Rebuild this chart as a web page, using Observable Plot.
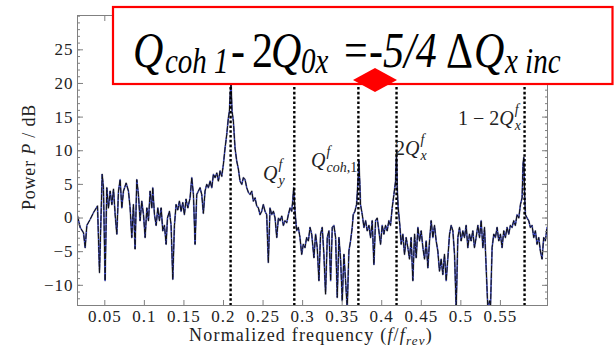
<!DOCTYPE html>
<html><head><meta charset="utf-8">
<script src="https://cdn.jsdelivr.net/npm/d3@7"></script>
<script src="https://cdn.jsdelivr.net/npm/@observablehq/plot@0.6"></script>
<style>
body{margin:0;background:#fff;}
#chart{width:614px;height:350px;}
#chart svg text, #chart svg tspan{font-family:'Liberation Serif', serif !important;}
#chart g[aria-label="x-axis tick label"] text, #chart g[aria-label="y-axis tick label"] text{font-size:17px !important;letter-spacing:1px;fill:#222;}
</style>
</head><body><div id="chart"></div>
<script>
// Normalized frequency (f/f_rev) of each spectrum sample
const freq = [
0.0155,0.0189,0.0231,0.0252,0.0273,0.0315,0.0357,0.0408,0.0433,0.0467,
0.0483,0.0504,0.0525,0.0546,0.0568,0.0589,0.0610,0.0631,0.0652,0.0673,
0.0694,0.0715,0.0736,0.0770,0.0799,0.0820,0.0841,0.0862,0.0883,0.0904,
0.0925,0.0946,0.0967,0.0989,0.1010,0.1031,0.1052,0.1073,0.1094,0.1106,
0.1128,0.1149,0.1170,0.1191,0.1212,0.1233,0.1254,0.1275,0.1292,0.1317,
0.1338,0.1359,0.1380,0.1401,0.1422,0.1443,0.1464,0.1485,0.1506,0.1527,
0.1549,0.1578,0.1599,0.1620,0.1641,0.1662,0.1683,0.1704,0.1725,0.1746,
0.1767,0.1788,0.1809,0.1831,0.1852,0.1873,0.1894,0.1915,0.1936,0.1957,
0.1978,0.1999,0.2020,0.2041,0.2062,0.2075,0.2087,0.2096,0.2108,0.2125,
0.2146,0.2167,0.2188,0.2209,0.2231,0.2252,0.2273,0.2294,0.2315,0.2336,
0.2357,0.2378,0.2399,0.2420,0.2441,0.2462,0.2483,0.2504,0.2525,0.2546,
0.2567,0.2588,0.2610,0.2631,0.2652,0.2673,0.2694,0.2715,0.2736,0.2757,
0.2778,0.2799,0.2820,0.2841,0.2862,0.2875,0.2887,0.2904,0.2925,0.2946,
0.2967,0.2988,0.3009,0.3030,0.3051,0.3073,0.3094,0.3115,
0.3143,0.3164,0.3185,0.3206,0.3227,0.3248,0.3269,0.3290,0.3312,0.3333,
0.3354,0.3375,0.3396,0.3417,0.3438,0.3459,0.3480,0.3501,0.3522,0.3543,
0.3564,0.3585,0.3606,0.3627,0.3640,0.3661,0.3682,0.3703,0.3711,0.3724,
0.3732,0.3754,0.3775,0.3796,0.3817,0.3838,0.3859,0.3880,0.3901,0.3922,
0.3943,0.3964,0.3985,0.4006,0.4027,0.4048,0.4069,0.4090,0.4111,0.4132,
0.4154,0.4175,0.4187,0.4196,0.4208,0.4229,0.4246,0.4267,0.4288,0.4309,
0.4330,0.4351,0.4372,0.4393,0.4415,0.4436,0.4457,0.4478,0.4499,0.4520,
0.4541,0.4562,0.4583,0.4604,0.4625,0.4646,0.4667,0.4688,0.4709,0.4730,
0.4751,0.4772,0.4793,0.4815,0.4836,0.4857,0.4878,0.4899,0.4920,0.4941,
0.4962,0.4983,0.5004,0.5025,0.5046,0.5067,0.5088,0.5109,0.5130,0.5151,
0.5172,0.5193,0.5215,0.5236,0.5257,0.5278,0.5299,0.5320,0.5341,0.5362,
0.5374,0.5395,0.5416,0.5437,0.5458,0.5479,0.5500,0.5521,0.5542,0.5563,
0.5584,0.5605,0.5626,0.5647,0.5668,0.5689,0.5710,0.5732,0.5753,0.5774,
0.5786,0.5795,0.5807,0.5816,0.5837,0.5858,0.5879,0.5900,0.5921,0.5942,
0.5963,0.5984,0.6005,0.6026,0.6047,0.6068,0.6089
];
// Power P / dB at each sample
const power = [
0.3,-1.4,-2.2,-4.4,-1.1,-0.2,0.8,1.8,-8.1,6.5,
4.5,-9.3,4.5,1.5,4.0,2.0,4.3,0.5,-2.4,4.0,
5.7,1.5,4.0,5.2,4.0,1.5,-2.9,2.0,-4.6,5.7,
3.5,-0.4,2.5,0.5,-2.9,1.5,-0.4,4.0,1.5,4.5,
0.5,-1.1,1.5,-0.4,1.5,-1.9,-1.1,-3.9,0.0,1.0,
-1.1,-9.1,-1.1,2.0,1.2,2.5,1.0,2.3,0.5,2.8,
1.5,3.0,6.0,3.5,-3.9,3.5,4.0,4.5,3.5,0.7,
4.0,5.0,4.5,5.5,4.5,6.5,6.0,6.7,5.5,7.0,
6.2,8.0,10.4,12.4,14.9,15.9,18.8,20.0,15.9,14.4,
10.4,8.5,7.3,5.5,5.0,6.0,5.7,4.5,3.8,3.5,
4.0,2.5,3.0,1.8,1.5,0.5,1.0,2.0,1.0,0.5,
-6.6,1.5,0.5,1.0,0.0,-2.9,0.0,-0.4,0.3,-1.1,
-0.4,-0.7,0.5,1.5,1.0,2.5,4.5,1.0,-1.9,-1.4,
-2.9,-5.4,-3.9,-4.4,-2.9,-3.4,-1.4,-2.4,
-5.9,-2.4,-4.4,-9.3,-2.4,-1.4,-5.4,-11.3,-2.9,-1.9,
-9.3,-1.4,-1.1,-2.9,-11.8,-2.9,-6.1,-12.3,-5.4,-9.3,
-13.5,-4.9,-3.4,-1.4,0.5,1.0,2.0,6.0,8.5,5.0,
2.0,0.5,-1.4,-0.4,-1.9,-1.1,-2.9,-0.4,-6.9,-0.4,
0.0,-1.9,-3.9,-1.1,-2.4,-1.1,-1.9,-0.4,-1.1,1.5,
3.5,5.5,9.9,4.5,1.5,-1.1,-3.9,-2.4,-5.4,-2.9,
-4.4,-6.1,-2.9,-9.3,-2.4,-5.9,-1.4,-3.4,-1.9,-4.4,
-6.1,-3.4,-7.4,-3.4,-0.4,-2.9,-1.1,-3.4,-4.9,-7.9,
-6.1,-8.4,-5.4,-9.3,-5.9,-2.4,-1.1,-1.9,-5.4,-13.5,
-2.9,-1.4,-3.4,-1.9,-2.9,-1.1,-4.4,-2.4,-3.4,-1.9,
-4.4,-2.9,-1.1,-2.9,-0.4,-4.4,-1.4,-7.4,-13.5,-12.3,
-13.5,-4.4,-2.4,-2.9,-1.4,-3.4,-2.4,-4.4,-1.9,-2.9,
-1.4,-2.4,-1.1,-1.4,-0.4,-1.1,0.5,0.0,2.0,3.0,
8.0,9.0,3.0,0.5,0.0,-0.4,-1.4,-1.1,-2.9,-1.9,
-3.9,-2.9,-4.9,-6.1,-2.9,-3.4,-1.4
];
// Dotted marker lines (tunes)
const markerFreqs = [0.209, 0.2895, 0.3705, 0.4187, 0.5805];
// Peak labels
const peakLabelMain = ["Q", "Q", "2Q", "1 \u2212 2Q"];
const peakLabelSup = ["f", "f", "f", "f"];
const peakLabelSub = ["y", "coh,1", "x", "x"];
const peakLabelFreq = [0.2506, 0.3112, 0.4174, 0.4970];
const peakLabelPower = [5.6, 7.5, 9.3, 13.75];
// Ticks
const xTicks = [0.05, 0.1, 0.15, 0.2, 0.25, 0.3, 0.35, 0.4, 0.45, 0.5, 0.55];
const yTicks = [-10, -5, 0, 5, 10, 15, 20, 25];
const yMinorTicks = [-13,-12,-11,-10,-9,-8,-7,-6,-5,-4,-3,-2,-1,0,1,2,3,4,5,6,7,8,9,10,11,12,13,14,15,16,17,18,19,20,21,22,23,24,25,26,27,28,29,30];

const frameColor = "#808080";
const fmtY = d => d < 0 ? "\u2212" + (-d) : String(d);

const plot = Plot.plot({
  width: 614, height: 350,
  marginLeft: 77, marginRight: 67, marginTop: 15, marginBottom: 45,
  x: {domain: [0.0155, 0.6095]},
  y: {domain: [-13, 30.1]},
  style: "font-family: 'Liberation Serif', serif; font-size: 17px; color: #222; background: white;",
  marks: [
    Plot.line(freq, {x: freq, y: power, stroke: "#9a9a9a", strokeWidth: 1.8, clip: true}),
    Plot.line(freq, {x: freq, y: power, stroke: "#2b3cf0", strokeWidth: 1, clip: true}),
    Plot.line(freq, {x: freq, y: power, stroke: "#111", strokeWidth: 1, strokeDasharray: "5,2", clip: true}),
    Plot.ruleX(markerFreqs, {stroke: "#000", strokeWidth: 2.4, strokeDasharray: "2.6,2.2"}),
    Plot.frame({stroke: frameColor}),
    Plot.axisY({anchor: "left", ticks: yMinorTicks, tickSize: 3, dx: 3, fill: "none", stroke: frameColor, label: null}),
    Plot.axisY({anchor: "right", ticks: yMinorTicks, tickSize: 3, dx: -3, fill: "none", stroke: frameColor, label: null}),
    Plot.axisY({anchor: "left", ticks: yTicks, tickSize: 6, dx: 6, fill: "none", stroke: frameColor, label: null}),
    Plot.axisY({anchor: "right", ticks: yTicks, tickSize: 6, dx: -6, fill: "none", stroke: frameColor, label: null}),
    Plot.axisX({anchor: "bottom", ticks: xTicks, tickSize: 5, dy: -5, fill: "none", stroke: frameColor, label: null}),
    Plot.axisX({anchor: "top", ticks: xTicks, tickSize: 5, dy: 5, fill: "none", stroke: frameColor, label: null}),
    Plot.axisY({anchor: "left", ticks: yTicks, tickSize: 0, tickPadding: 4, tickFormat: fmtY, label: null, fill: "#222"}),
    Plot.axisX({anchor: "bottom", ticks: xTicks, tickSize: 0, tickPadding: 4, tickFormat: d => String(d), label: null, fill: "#222"})
  ]
});
document.getElementById("chart").append(plot);

const svg = d3.select(plot);
const xs = plot.scale("x"), ys = plot.scale("y");
const it = sel => sel.style("font-style", "italic");

// Axis titles
const yt = svg.append("text").attr("transform", "translate(35,157) rotate(-90)")
  .attr("text-anchor", "middle").style("font-size", "18px")
  .style("letter-spacing", "0.8px").attr("fill", "#222");
yt.append("tspan").text("Power ");
it(yt.append("tspan")).text("P");
yt.append("tspan").text(" / dB");

const xt = svg.append("text").attr("x", 311).attr("y", 341)
  .attr("text-anchor", "middle").style("font-size", "18px")
  .style("letter-spacing", "1.2px").attr("fill", "#222");
xt.append("tspan").text("Normalized frequency (");
it(xt.append("tspan")).text("f");
xt.append("tspan").text("/");
it(xt.append("tspan")).text("f");
it(xt.append("tspan")).style("font-size", "13px").attr("dy", 4).text("rev");
xt.append("tspan").attr("dy", -4).text(")");

// Peak labels
const lg = svg.append("g").attr("fill", "#222").attr("text-anchor", "start");
peakLabelMain.forEach((m, i) => {
  const x0 = xs.apply(peakLabelFreq[i]), y0 = ys.apply(peakLabelPower[i]);
  const t = lg.append("text").attr("x", x0).attr("y", y0).attr("text-anchor", "start").style("font-size", "20px");
  const prefix = m.slice(0, -1);
  if (prefix) t.append("tspan").text(prefix);
  it(t.append("tspan")).text("Q");
  const xe = x0 + t.node().getComputedTextLength() + 1;
  it(lg.append("text").attr("x", xe).attr("y", y0 - 11).attr("text-anchor", "start").style("font-size", "14px")).text(peakLabelSup[i]);
  const s = lg.append("text").attr("x", xe).attr("y", y0 + 5).attr("text-anchor", "start").style("font-size", "14px");
  peakLabelSub[i].split(/([a-z]+)/).filter(p => p).forEach(p => {
    s.append("tspan").style("font-style", /[a-z]/.test(p) ? "italic" : "normal").text(p);
  });
});

// Annotation box
const ann = svg.append("g").attr("text-anchor", "start");
ann.append("rect").attr("x", 113).attr("y", 7).attr("width", 499.5).attr("height", 77)
  .attr("fill", "white").attr("stroke", "#ff0000").attr("stroke-width", 2.2);
const big = ann.append("text").attr("transform", "translate(0,67) scale(1,1.2)")
  .attr("text-anchor", "start").attr("fill", "#000");
const parts = [
  {t: "Q", x: 133, y: 0, i: true, s: 42},
  {t: "coh 1", x: 165, y: 5, i: true, s: 29},
  {t: "-", x: 231, y: 0, i: false, s: 42},
  {t: "2", x: 252, y: 0, i: false, s: 42},
  {t: "Q", x: 271, y: 0, i: true, s: 42},
  {t: "0x", x: 301, y: 5, i: true, s: 29},
  {t: "=", x: 344, y: 0, i: false, s: 42},
  {t: "-5/4", x: 369, y: 0, i: true, s: 42},
  {t: "\u0394", x: 446, y: 0, i: false, s: 42},
  {t: "Q", x: 474, y: 0, i: true, s: 42},
  {t: "x inc", x: 505, y: 5, i: true, s: 29}
];
parts.forEach(p => big.append("tspan").attr("x", p.x).attr("y", p.y)
  .style("font-style", p.i ? "italic" : "normal").style("font-size", p.s + "px").text(p.t));
ann.append("polygon").attr("points", "353,80 375,68 397,80 375,92").attr("fill", "#ff0000");
</script>
</body></html>
